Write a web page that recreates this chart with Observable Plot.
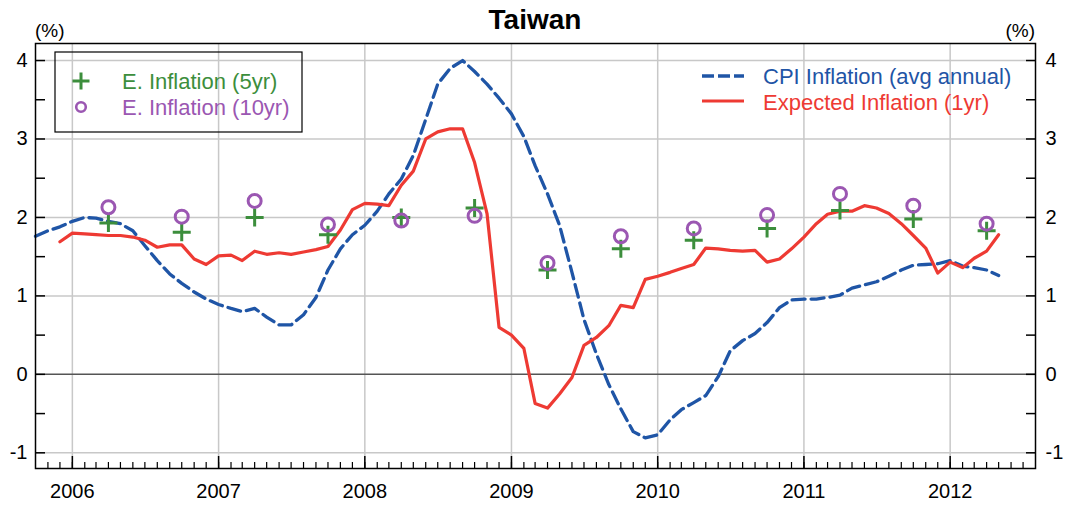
<!DOCTYPE html>
<html>
<head>
<meta charset="utf-8">
<script src="https://cdn.jsdelivr.net/npm/d3@7"></script>
<script src="https://cdn.jsdelivr.net/npm/@observablehq/plot@0.6"></script>
<style>
  body { margin: 0; background: #fff; }
</style>
</head>
<body>
<div id="chart"></div>
<script>
// ---- data (monthly) ----
const cpiStart = "2005-10-01";
const cpiValues = [
  1.76, 1.83, 1.88,
  1.95, 2.00, 1.99, 1.95, 1.92, 1.83, 1.64, 1.45, 1.28, 1.16, 1.05, 0.96,
  0.89, 0.84, 0.80, 0.84, 0.73, 0.63, 0.63, 0.76, 0.98, 1.33, 1.60, 1.78,
  1.90, 2.08, 2.30, 2.49, 2.79, 3.25, 3.70, 3.90, 4.00, 3.86, 3.70, 3.52,
  3.32, 3.03, 2.66, 2.30, 1.90, 1.30, 0.70, 0.26, -0.13, -0.44, -0.73, -0.81,
  -0.77, -0.58, -0.45, -0.36, -0.27, -0.03, 0.30, 0.43, 0.52, 0.66, 0.85, 0.95,
  0.96, 0.96, 0.98, 1.01, 1.10, 1.14, 1.18, 1.25, 1.33, 1.39, 1.40, 1.41,
  1.45, 1.38, 1.36, 1.33, 1.26
];
const exp1Start = "2005-12-01";
const exp1Values = [
  1.69,
  1.80, 1.79, 1.78, 1.77, 1.77, 1.75, 1.71, 1.62, 1.65, 1.65, 1.47, 1.40,
  1.51, 1.52, 1.45, 1.57, 1.53, 1.55, 1.53, 1.56, 1.59, 1.63, 1.84, 2.10,
  2.18, 2.17, 2.15, 2.41, 2.59, 3.00, 3.09, 3.13, 3.13, 2.70, 2.05, 0.60,
  0.50, 0.33, -0.37, -0.43, -0.25, -0.04, 0.37, 0.47, 0.62, 0.88, 0.85, 1.21,
  1.25, 1.30, 1.35, 1.40, 1.61, 1.60, 1.58, 1.57, 1.58, 1.43, 1.47, 1.60,
  1.75, 1.92, 2.04, 2.08, 2.08, 2.15, 2.12, 2.05, 1.92, 1.77, 1.61, 1.29,
  1.43, 1.36, 1.48, 1.57, 1.78
];
const surveyDates = [
  "2006-04-01", "2006-10-01", "2007-04-01", "2007-10-01", "2008-04-01",
  "2008-10-01", "2009-04-01", "2009-10-01", "2010-04-01", "2010-10-01",
  "2011-04-01", "2011-10-01", "2012-04-01"
];
const exp5Values  = [1.93, 1.81, 2.00, 1.78, 2.00, 2.12, 1.33, 1.60, 1.71, 1.86, 2.09, 1.98, 1.83];
const exp10Values = [2.13, 2.01, 2.21, 1.91, 1.96, 2.02, 1.42, 1.76, 1.86, 2.03, 2.30, 2.15, 1.92];

const yLabelTicks = [-1, 0, 1, 2, 3, 4];
const yMinorTicks = [-1, -0.5, 0, 0.5, 1, 1.5, 2, 2.5, 3, 3.5, 4];
const xDomain = ["2005-10-01", "2012-08-01"];
const titleText = "Taiwan";
const unitText = "(%)";
const names = {
  cpi: "CPI Inflation (avg annual)",
  exp1: "Expected Inflation (1yr)",
  exp5: "E. Inflation (5yr)",
  exp10: "E. Inflation (10yr)"
};
const colors = {
  cpi: "#1f55a6",
  exp1: "#ee3a33",
  exp5: "#3c8e3c",
  exp10: "#9b57b2"
};

// ---- build tables ----
const monthly = (start, values) =>
  values.map((v, i) => ({date: d3.utcMonth.offset(new Date(start), i), value: v}));
const cpi = monthly(cpiStart, cpiValues);
const exp1 = monthly(exp1Start, exp1Values);
const survey = surveyDates.map((d, i) => ({date: new Date(d), five: exp5Values[i], ten: exp10Values[i]}));

const x0 = new Date(xDomain[0]), x1 = new Date(xDomain[1]);
const yearTicks = d3.utcYear.range(x0, x1);
const monthTicks = d3.utcMonth.range(d3.utcMonth.offset(x0, 1), x1);

const FONT = "'Liberation Sans', Arial, Helvetica, sans-serif";
const blank = () => "";
const plainNum = d => String(d);

const plusSymbol = {
  draw(context, size) {
    const r = Math.sqrt(size / Math.PI);
    context.moveTo(-r, 0); context.lineTo(r, 0);
    context.moveTo(0, -r); context.lineTo(0, r);
  }
};

const plot = Plot.plot({
  width: 1069,
  height: 507,
  marginLeft: 35,
  marginRight: 34,
  marginTop: 43,
  marginBottom: 39,
  style: {fontFamily: FONT, fontSize: "20px", color: "#000", background: "#fff", overflow: "visible"},
  x: {type: "utc", domain: [x0, x1]},
  y: {domain: [-1.2, 4.217]},
  marks: [
    Plot.gridX({ticks: yearTicks, stroke: "#c8c8c8", strokeOpacity: 1, strokeWidth: 1.5}),
    Plot.gridY({ticks: yLabelTicks.filter(d => d !== 0), stroke: "#c8c8c8", strokeOpacity: 1, strokeWidth: 1.5}),
    Plot.ruleY([0], {stroke: "#555", strokeWidth: 1.5}),
    // y labels
    Plot.axisY({anchor: "left", ticks: yLabelTicks, tickSize: 0, tickPadding: 8, tickFormat: plainNum, label: null}),
    Plot.axisY({anchor: "right", ticks: yLabelTicks, tickSize: 0, tickPadding: 10, tickFormat: plainNum, label: null}),
    // y tick marks (inward)
    Plot.axisY({anchor: "left", ticks: yMinorTicks, tickSize: -10, tickFormat: blank, label: null, strokeWidth: 1.5}),
    Plot.axisY({anchor: "right", ticks: yMinorTicks, tickSize: -10, tickFormat: blank, label: null, strokeWidth: 1.5}),
    // x labels + ticks
    Plot.axisX({ticks: yearTicks, tickSize: 0, tickPadding: 15, tickFormat: "%Y", label: null}),
    Plot.axisX({ticks: yearTicks, tickSize: -12, tickFormat: blank, label: null, strokeWidth: 1.5}),
    Plot.axisX({ticks: monthTicks, tickSize: -6, tickFormat: blank, label: null, strokeWidth: 1.2}),
    // series
    Plot.line(cpi, {x: "date", y: "value", stroke: colors.cpi, strokeWidth: 3.3, strokeDasharray: "13,6"}),
    Plot.line(exp1, {x: "date", y: "value", stroke: colors.exp1, strokeWidth: 3.2}),
    Plot.dot(survey, {x: "date", y: "five", symbol: plusSymbol, r: 9, stroke: colors.exp5, strokeWidth: 3, fill: "none"}),
    Plot.dot(survey, {x: "date", y: "ten", r: 6.5, stroke: colors.exp10, strokeWidth: 3, fill: "none"}),
    Plot.frame({stroke: "#000", strokeWidth: 1.5})
  ]
});

document.getElementById("chart").appendChild(plot);

// ---- title, units and legends ----
const svg = d3.select(plot);
const deco = svg.append("g").attr("font-family", FONT).attr("text-anchor", "start");

deco.append("text").attr("x", 535).attr("y", 29).attr("text-anchor", "middle")
  .attr("font-size", 28).attr("font-weight", "bold").attr("fill", "#000").text(titleText);
deco.append("text").attr("x", 35).attr("y", 37).attr("text-anchor", "start").attr("font-size", 19).attr("fill", "#000").text(unitText);
deco.append("text").attr("x", 1035).attr("y", 37).attr("text-anchor", "end").attr("font-size", 19).attr("fill", "#000").text(unitText);

// boxed legend (survey expectations)
deco.append("rect").attr("x", 55).attr("y", 52).attr("width", 247).attr("height", 80)
  .attr("fill", "none").attr("stroke", "#000").attr("stroke-width", 1.2);
deco.append("path").attr("d", "M72.5,81H89.5M81,72.5V89.5")
  .attr("stroke", colors.exp5).attr("stroke-width", 3).attr("fill", "none");
deco.append("text").attr("x", 122).attr("y", 89).attr("text-anchor", "start").attr("font-size", 22).attr("fill", colors.exp5).text(names.exp5);
deco.append("circle").attr("cx", 81).attr("cy", 107).attr("r", 4.8)
  .attr("stroke", colors.exp10).attr("stroke-width", 2.6).attr("fill", "none");
deco.append("text").attr("x", 122).attr("y", 115).attr("text-anchor", "start").attr("font-size", 22).attr("fill", colors.exp10).text(names.exp10);

// line legend
deco.append("line").attr("x1", 702).attr("x2", 744).attr("y1", 76).attr("y2", 76)
  .attr("stroke", colors.cpi).attr("stroke-width", 3.3).attr("stroke-dasharray", "12,4");
deco.append("text").attr("x", 763).attr("y", 84).attr("text-anchor", "start").attr("font-size", 22).attr("fill", colors.cpi).text(names.cpi);
deco.append("line").attr("x1", 702).attr("x2", 744).attr("y1", 101).attr("y2", 101)
  .attr("stroke", colors.exp1).attr("stroke-width", 3.2);
deco.append("text").attr("x", 763).attr("y", 110).attr("text-anchor", "start").attr("font-size", 22).attr("fill", colors.exp1).text(names.exp1);
</script>
</body>
</html>
